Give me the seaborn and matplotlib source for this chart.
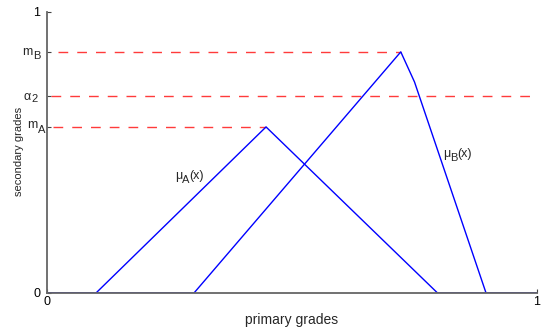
import matplotlib
matplotlib.use("Agg")
import matplotlib.pyplot as plt
import seaborn as sns
import pandas as pd

# Membership function A (triangle)
a_x = [0.0, 0.10, 0.447, 0.797, 1.0]
a_y = [0.0, 0.0, 0.591, 0.0, 0.0]

# Membership function B (with a kink on its falling edge)
b_x = [0.0, 0.30, 0.722, 0.750, 0.896, 1.0]
b_y = [0.0, 0.0, 0.858, 0.751, 0.0, 0.0]

# Reference levels
m_a = 0.591
m_b = 0.858
alpha_2 = 0.70

ytick_vals = [0.0, m_a, alpha_2, m_b, 1.0]
ytick_labels = ["0", "", "", "", "1"]
xtick_vals = [0.0, 1.0]
xtick_labels = ["0", "1"]

PX = 0.72  # points per pixel at 100 dpi

sns.set_style("ticks")
plt.rcParams["font.family"] = ["Liberation Sans", "DejaVu Sans"]

fig = plt.figure(figsize=(5.41, 3.32), dpi=100)
ax = fig.add_axes([0.0869, 0.1175, 0.9057, 0.8464])

df_a = pd.DataFrame({"x": a_x, "y": a_y})
df_b = pd.DataFrame({"x": b_x, "y": b_y})

# Dashed reference levels
dash = (0, (7.0, 6.5))
red = "#ff3b3b"
ax.plot([0.012, a_x[2]], [m_a, m_a], ls=dash, color=red, lw=1.0)
ax.plot([0.008, 1.0], [alpha_2, alpha_2], ls=dash, color=red, lw=1.0)
ax.plot([0.022, b_x[2]], [m_b, m_b], ls=dash, color=red, lw=1.0)

sns.lineplot(data=df_a, x="x", y="y", sort=False, estimator=None,
             color="#0000ff", lw=1.0, ax=ax)
sns.lineplot(data=df_b, x="x", y="y", sort=False, estimator=None,
             color="#0000ff", lw=1.0, ax=ax)


def put(text, xy, dx, dy, size, ha="left", coords="data"):
    ax.annotate(text, xy=xy, xycoords=coords, xytext=(dx * PX, dy * PX),
                textcoords="offset points", ha=ha, va="baseline",
                fontsize=size, annotation_clip=False)


# Subscripted y tick labels: main glyph right-aligned, subscript after it
for val, main, sub, jx, mdy, sdy in [
    (m_b, "m", "B", -14.5, -3, -7),
    (alpha_2, "α", "2", -16, -4, -6),
    (m_a, "m", "A", -10, -1.5, -6),
]:
    put(main, (0, val), jx, mdy, 9, ha="right")
    put(sub, (0, val), jx + 0.5, sdy, 8, ha="left")

# Curve labels
for x0, y0, sub in [(0.261, 0.406, "A"), (0.808, 0.484, "B")]:
    put("μ", (x0, y0), 0, 0, 9)
    put(sub, (x0, y0), 7.5, -4, 8)
    put("(x)", (x0, y0), 14.5, 0, 9)

ax.set_xlim(0, 1)
ax.set_ylim(0, 1)
ax.set_xticks(xtick_vals)
ax.set_xticklabels(xtick_labels)
ax.set_yticks(ytick_vals)
ax.set_yticklabels(ytick_labels)
ax.tick_params(axis="both", direction="in", length=3, width=0.8, labelsize=9,
               colors="#444444", labelcolor="black")
ax.tick_params(axis="y", pad=5)
ax.tick_params(axis="x", pad=2)

for s in ["top", "right"]:
    ax.spines[s].set_visible(False)
for s in ["left", "bottom"]:
    ax.spines[s].set_color("#666666")
    ax.spines[s].set_linewidth(1.3)

ax.set_xlabel("primary grades", fontsize=10, labelpad=4)
ax.set_ylabel("secondary grades", fontsize=8)
ax.yaxis.set_label_coords(-0.047, 0.505)

fig.savefig("out.png", dpi=100)
